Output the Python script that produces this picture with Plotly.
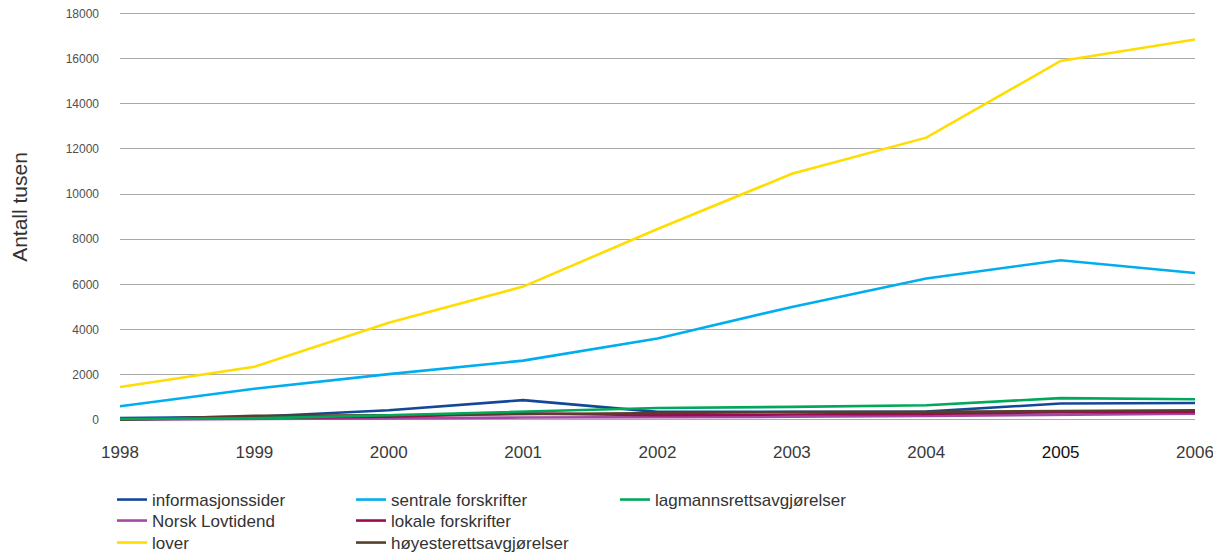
import plotly.graph_objects as go

years = [1998, 1999, 2000, 2001, 2002, 2003, 2004, 2005, 2006]
year_labels = ["1998", "1999", "2000", "2001", "2002", "2003", "2004",
               "<span style='color:#111'>2005</span>", "2006"]

informasjonssider = [80, 130, 420, 870, 350, 350, 360, 720, 740]
norsk_lovtidend = [0, 20, 60, 100, 100, 130, 170, 210, 270]
lover = [1450, 2350, 4300, 5900, 8450, 10900, 12500, 15900, 16850]
sentrale_forskrifter = [600, 1370, 2020, 2620, 3600, 5000, 6260, 7070, 6500]
lokale_forskrifter = [20, 60, 130, 280, 200, 230, 260, 330, 340]
hoyesterett = [0, 170, 200, 250, 300, 340, 350, 390, 420]
lagmannsrett = [30, 60, 200, 370, 520, 570, 640, 960, 910]

y_ticks = [0, 2000, 4000, 6000, 8000, 10000, 12000, 14000, 16000, 18000]
y_tick_labels = ["0", "2000", "4000", "6000", "8000", "10000", "12000",
                 "14000", "16000", "18000"]

# the page body has an 8px margin, so the figure is 8px smaller each way
OFF = 8
W, H = 1221 - OFF, 553 - OFF
Y_LO, Y_HI = -100, 18200
K = 405.5 / 18000            # px per unit (0 at y=419.5, 18000 at y=14)
top_win = 14 - (Y_HI - 18000) * K
bot_win = 419.5 + (0 - Y_LO) * K
ml, mr = 120 - OFF, 26
mt = top_win - OFF
mb = H - (bot_win - OFF)

# legend slots (window px): text start per column, row centres
col_text = [152, 391, 655]
row_y = [500, 521, 543]
TEXT_OFFSET = 40

series = [
    # name, values, color, (col, row)
    ("informasjonssider", informasjonssider, "#12479a", (0, 0)),
    ("Norsk Lovtidend", norsk_lovtidend, "#a34aa3", (0, 1)),
    ("lover", lover, "#ffdd00", (0, 2)),
    ("sentrale forskrifter", sentrale_forskrifter, "#00aeef", (1, 0)),
    ("lokale forskrifter", lokale_forskrifter, "#9c0a52", (1, 1)),
    ("høyesterettsavgjørelser", hoyesterett, "#55402c", (1, 2)),
    ("lagmannsrettsavgjørelser", lagmannsrett, "#00a859", (2, 0)),
]

FONT = "Liberation Sans, Arial, sans-serif"

fig = go.Figure()
legends = {}
for i, (name, vals, color, (c, r)) in enumerate(series):
    lid = "legend" if i == 0 else f"legend{i + 1}"
    fig.add_trace(go.Scatter(
        x=years, y=vals, name=name, mode="lines",
        line=dict(color=color, width=2.6),
        legend=lid,
    ))
    legends[lid] = dict(
        xref="container", yref="container",
        x=(col_text[c] - TEXT_OFFSET - OFF) / W,
        y=1 - (row_y[r] - OFF) / H,
        xanchor="left", yanchor="middle",
        orientation="v",
        font=dict(family=FONT, size=17, color="#333333"),
        bgcolor="rgba(0,0,0,0)", borderwidth=0, itemwidth=30,
    )

pw = W - ml - mr
ph = H - mt - mb

fig.update_layout(
    width=W, height=H,
    margin=dict(l=ml, r=mr, t=mt, b=mb, autoexpand=False),
    paper_bgcolor="white", plot_bgcolor="white",
    font=dict(family=FONT, color="#333333"),
    showlegend=True,
    xaxis=dict(
        range=[1998, 2006],
        tickmode="array", tickvals=years, ticktext=year_labels,
        showgrid=False, zeroline=False, showline=False,
        ticks="", ticklabelstandoff=18, automargin=False,
        ticklabeloverflow="allow",
        tickfont=dict(family=FONT, size=17, color="#3a3a3a"),
    ),
    yaxis=dict(
        range=[Y_LO, Y_HI],
        tickmode="array", tickvals=y_ticks, ticktext=y_tick_labels,
        showgrid=True, gridcolor="#aaaaaa", gridwidth=1.4,
        zeroline=False, showline=False, ticks="",
        ticklabelstandoff=20, automargin=False,
        ticklabeloverflow="allow",
        tickfont=dict(family=FONT, size=12, color="#505050"),
    ),
    annotations=[dict(
        text="Antall tusen", textangle=-90,
        xref="paper", yref="paper",
        x=(20 - OFF - ml) / pw, y=(H - mb - (207 - OFF)) / ph,
        xanchor="center", yanchor="middle", showarrow=False,
        font=dict(family=FONT, size=21, color="#333333"),
    )],
    **legends,
)

fig.write_html("out.html")
